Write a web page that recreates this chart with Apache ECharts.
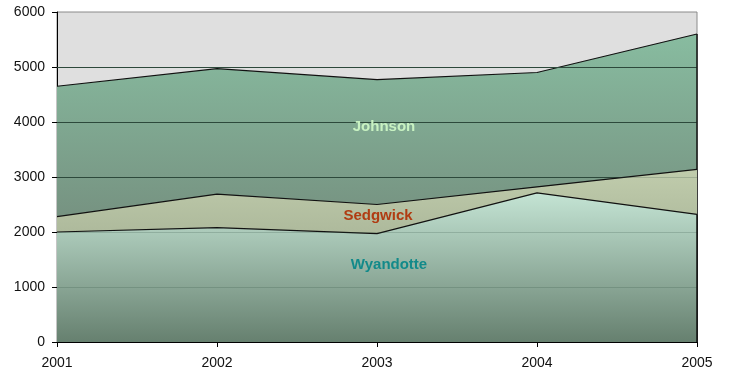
<!DOCTYPE html>
<html>
<head>
<meta charset="utf-8">
<script src="https://cdn.jsdelivr.net/npm/echarts@6/dist/echarts.min.js"></script>
<style>
  html, body { margin: 0; padding: 0; background: #ffffff; }
  #chart { width: 729px; height: 374px; }
</style>
</head>
<body>
<div id="chart"></div>
<script>
// Years on the horizontal axis
const years = ['2001', '2002', '2003', '2004', '2005'];

// County values (overlapping areas, not stacked)
const johnson   = [4650, 4970, 4770, 4900, 5600];
const sedgwick  = [2280, 2690, 2500, 2820, 3140];
const wyandotte = [2000, 2080, 1970, 2710, 2320];

// Value axis ticks
const yTicks = [0, 1000, 2000, 3000, 4000, 5000, 6000];
const gridValues = yTicks.filter(v => v > 0 && v < 6000);

const FONT = '"Liberation Sans", Arial, sans-serif';

function grad(top, bottom) {
  return new echarts.graphic.LinearGradient(0, 0, 0, 1, [
    { offset: 0, color: top },
    { offset: 1, color: bottom }
  ]);
}

const chart = echarts.init(document.getElementById('chart'), null, { renderer: 'canvas' });

chart.setOption({
  animation: false,
  backgroundColor: '#ffffff',
  grid: {
    left: 57, right: 32, top: 12, bottom: 32,
    show: true, backgroundColor: '#dfdfdf', borderColor: '#8a8a8a', borderWidth: 1
  },
  xAxis: {
    type: 'category',
    data: years,
    boundaryGap: false,
    axisLine: { show: true, lineStyle: { color: '#000', width: 1 } },
    axisTick: { show: true, length: 5, lineStyle: { color: '#000' } },
    axisLabel: { fontSize: 14, color: '#111', margin: 14, fontFamily: FONT },
    splitLine: { show: false }
  },
  yAxis: {
    type: 'value',
    min: yTicks[0],
    max: yTicks[yTicks.length - 1],
    interval: 1000,
    axisLine: { show: true, lineStyle: { color: '#000', width: 1 } },
    axisTick: { show: true, length: 5, lineStyle: { color: '#000' } },
    axisLabel: { fontSize: 14, color: '#111', margin: 12, fontFamily: FONT, formatter: v => String(v) },
    splitLine: { show: false }
  },
  series: [
    {
      name: 'Johnson',
      type: 'line',
      data: johnson,
      z: 1,
      symbol: 'none',
      lineStyle: { color: '#111', width: 1.2 },
      areaStyle: { color: grad('#88bca0', '#6a766c'), opacity: 1 },
      markLine: {
        silent: true,
        symbol: 'none',
        z: 2,
        label: { show: false },
        lineStyle: { color: '#2f4a3d', width: 1, type: 'solid' },
        data: gridValues.map(v => ({ yAxis: v })).concat([
          [
            { coord: [years[years.length - 1], 0], lineStyle: { color: '#111', width: 1.5 } },
            { coord: [years[years.length - 1], johnson[johnson.length - 1]] }
          ]
        ])
      }
    },
    {
      name: 'Sedgwick',
      type: 'line',
      data: sedgwick,
      z: 3,
      symbol: 'none',
      lineStyle: { color: '#111', width: 1.2 },
      areaStyle: { color: grad('#c0ccac', '#8e9a80'), opacity: 1 }
    },
    {
      name: 'Wyandotte',
      type: 'line',
      data: wyandotte,
      z: 4,
      symbol: 'none',
      lineStyle: { color: '#111', width: 1.2 },
      areaStyle: { color: grad('#c4e4d4', '#66806f'), opacity: 1 },
      markLine: {
        silent: true,
        symbol: 'none',
        z: 5,
        label: { show: false },
        lineStyle: { color: 'rgba(40,70,55,0.2)', width: 1, type: 'solid' },
        data: gridValues.map(v => ({ yAxis: v })).concat([
          [
            { coord: [years[years.length - 1], 0], lineStyle: { color: '#111', width: 1.5 } },
            { coord: [years[years.length - 1], wyandotte[wyandotte.length - 1]] }
          ]
        ])
      }
    }
  ],
  graphic: [
    { type: 'text', x: 384, y: 127, z: 10,
      style: { text: 'Johnson', fill: '#c8f2c2', font: 'bold 15px ' + FONT, align: 'center', verticalAlign: 'middle' } },
    { type: 'text', x: 378, y: 216, z: 10,
      style: { text: 'Sedgwick', fill: '#b03c12', font: 'bold 15px ' + FONT, align: 'center', verticalAlign: 'middle' } },
    { type: 'text', x: 389, y: 265, z: 10,
      style: { text: 'Wyandotte', fill: '#128a8a', font: 'bold 15px ' + FONT, align: 'center', verticalAlign: 'middle' } }
  ]
});
</script>
</body>
</html>
